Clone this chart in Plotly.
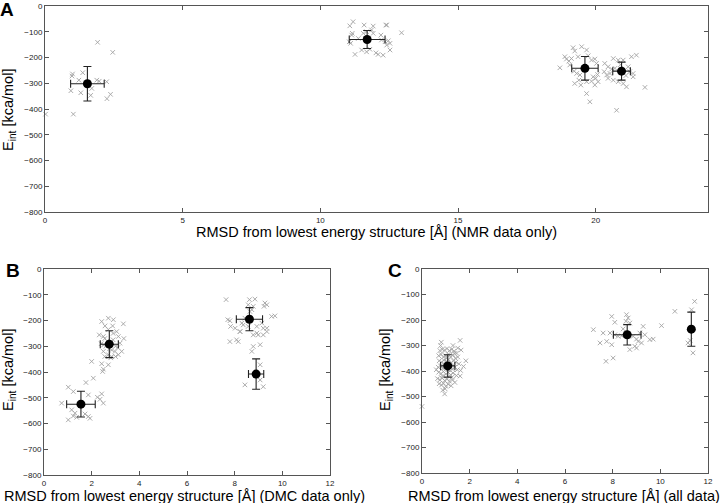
import plotly.graph_objects as go

# ---------------- Panel A (NMR data only) ----------------
a_pts_x = [1.91, 2.46, 1.00, 0.98, 1.37, 1.23, 1.88, 1.97, 2.24, 0.94, 1.30, 1.70, 1.66, 2.38, 2.25, 1.03, 0.02,
           11.19, 11.07, 11.59, 11.16, 11.14, 11.56, 11.68, 11.86, 11.92, 12.20, 12.41, 12.95, 11.05, 11.10, 11.38,
           12.22, 12.35, 12.47, 12.53, 12.41, 11.50, 11.26, 12.02, 12.10, 12.28, 12.53, 11.80, 11.68, 11.92, 12.38,
           19.18, 19.49, 19.67, 19.24, 18.88, 18.94, 19.03, 19.12, 19.36, 19.73, 19.85, 19.97, 20.03, 18.70, 19.06,
           19.22, 19.31, 19.43, 19.39, 19.24, 19.46, 19.67, 19.85, 19.91, 20.00, 20.09, 19.97, 19.67, 19.79, 20.07,
           20.76, 20.33, 20.45, 20.31, 20.40, 20.52, 20.64, 20.82, 21.00, 20.70, 21.18, 21.24, 21.36, 21.30, 21.48,
           20.64, 20.82, 21.00, 21.12, 20.45, 21.79, 21.36, 20.58, 20.90, 21.10]
a_pts_y = [-141, -180, -264, -272, -259, -288, -288, -292, -294, -329, -337, -320, -347, -343, -360, -420, -420,
           -61, -77, -74, -106, -113, -106, -100, -93, -106, -113, -74, -104, -139, -145, -126,
           -132, -139, -135, -145, -152, -171, -188, -182, -188, -191, -171, -168, -178, -78, -74,
           -162, -158, -171, -175, -197, -206, -214, -204, -197, -193, -210, -206, -223, -240, -229,
           -253, -262, -268, -288, -301, -307, -294, -292, -275, -281, -294, -307, -340, -372, -266,
           -405, -223, -236, -255, -268, -262, -204, -210, -210, -242, -236, -255, -262, -197, -191,
           -288, -294, -301, -314, -281, -316, -275, -245, -228, -270]
a_mean_x = [1.54, 11.70, 19.61, 20.94]
a_mean_y = [-302, -130, -242, -253]
a_err_x = [0.61, 0.65, 0.48, 0.32]
a_err_y = [67, 35, 46, 35]

# ---------------- Panel B (DMC data only) ----------------
b_pts_x = [2.42, 2.70, 2.91, 2.56, 2.88, 3.33, 2.32, 2.49, 3.05, 3.12, 3.19, 2.84, 2.98, 2.70, 2.49, 3.26, 3.12, 2.84,
           2.55, 2.65, 2.90, 3.00, 2.75, 2.60, 3.10, 2.50, 2.90, 2.70, 3.00, 3.35, 2.40, 2.80, 2.55,
           2.00, 2.42, 2.70, 2.49, 2.46, 2.07, 1.76, 1.02, 1.23, 1.86, 2.42, 2.24, 2.35, 2.49, 0.74, 1.16, 1.30,
           1.23, 1.02, 1.86, 1.93, 1.72, 1.37,
           8.62, 8.85, 8.57, 8.78, 9.27, 9.35, 9.23, 8.72, 8.64, 8.43, 8.30, 8.23, 8.36, 8.57, 8.78, 8.99, 8.93,
           9.14, 9.20, 9.35, 9.55, 9.69, 7.64, 7.71, 7.80, 7.83, 7.80, 8.08, 8.02, 8.22, 8.15, 8.93, 8.78, 9.07,
           9.20, 9.35, 8.72, 9.07, 8.43, 9.20, 9.07]
b_pts_y = [-204, -191, -197, -221, -221, -213, -256, -262, -243, -262, -288, -314, -320, -333, -320, -320, -333, -340,
           -270, -280, -275, -300, -310, -300, -305, -295, -250, -235, -340, -270, -290, -345, -340,
           -359, -368, -372, -389, -398, -424, -441, -459, -476, -489, -485, -498, -506, -521, -521, -547, -560,
           -571, -586, -573, -580, -563, -576,
           -119, -117, -139, -145, -132, -139, -145, -158, -165, -191, -210, -243, -217, -223, -256, -256, -223,
           -210, -230, -243, -184, -182, -119, -197, -201, -223, -282, -275, -230, -243, -282, -249, -301, -294,
           -256, -230, -320, -372, -450, -457, -431]
b_mean_x = [1.55, 2.74, 8.62, 8.90]
b_mean_y = [-525, -292, -195, -408]
b_err_x = [0.60, 0.38, 0.55, 0.32]
b_err_y = [50, 52, 45, 59]

# ---------------- Panel C (all data) ----------------
c_pts_x = [0.81, 1.60, 1.64, 1.84, 1.74, 0.95, 0.87,
           0.75, 0.85, 0.95, 1.05, 1.15, 1.25, 1.35, 1.45,
           0.70, 0.80, 0.90, 1.00, 1.10, 1.20, 1.30, 1.40, 1.50,
           0.72, 0.82, 0.92, 1.02, 1.12, 1.22, 1.32, 1.42, 1.55,
           0.68, 0.78, 0.88, 0.98, 1.08, 1.18, 1.28, 1.38, 1.48, 1.62,
           0.70, 0.80, 0.90, 1.00, 1.10, 1.20, 1.30, 1.45,
           0.65, 0.75, 0.85, 0.95, 1.05, 1.15, 1.28, 1.38,
           0.72, 0.82, 0.90, 1.00, 1.10, 1.22,
           0.78, 1.30, 1.50, 0.60, 1.60, 0.00,
           0.93, 1.17, 1.03, 0.86, 1.25, 1.13, 0.97, 1.36,
           7.19, 7.60, 7.96, 8.09, 7.89, 7.47, 7.75, 7.96, 7.72, 8.02, 8.58, 8.65, 8.56, 8.44, 8.72, 8.38, 8.86,
           9.00, 9.07, 9.14, 9.28, 9.35, 9.56, 9.70, 10.05, 8.72, 8.93, 9.00, 8.09, 8.23, 9.21,
           11.44, 11.31, 11.16, 11.37, 11.25, 10.61]
c_pts_y = [-287, -280, -318, -360, -382, -490, -475,
           -320, -315, -318, -312, -320, -315, -322, -330,
           -340, -335, -345, -340, -335, -345, -338, -350, -345,
           -360, -365, -358, -362, -355, -368, -360, -365, -372,
           -385, -380, -390, -385, -395, -388, -392, -385, -395, -398,
           -405, -410, -402, -412, -405, -415, -408, -418,
           -430, -435, -428, -438, -432, -440, -435, -445,
           -450, -455, -448, -460, -452, -458,
           -300, -300, -310, -395, -420, -539,
           -372, -378, -350, -420, -425, -395, -470, -330,
           -238, -251, -186, -209, -251, -290, -284, -297, -362, -349, -179, -192, -205, -235, -212, -262, -264,
           -275, -284, -251, -225, -258, -277, -275, -222, -316, -303, -310, -258, -264, -290,
           -127, -160, -290, -329, -280, -166]
c_mean_x = [1.08, 8.61, 11.30]
c_mean_y = [-380, -258, -236]
c_err_x = [0.30, 0.58, 0.0]
c_err_y = [44, 40, 67]

# ---------------- ticks ----------------
y_ticks = [0, -100, -200, -300, -400, -500, -600, -700, -800]
a_x_ticks = [0, 5, 10, 15, 20]
bc_x_ticks = [0, 2, 4, 6, 8, 10, 12]

x_titles = ["RMSD from lowest energy structure [Å] (NMR data only)",
            "RMSD from lowest energy structure [Å] (DMC data only)",
            "RMSD from lowest energy structure [Å] (all data)"]
y_title = "E<sub>int</sub> [kca/mol]"
panel_labels = ["A", "B", "C"]

PT_COLOR = "#a3a3a3"
FONT = "Liberation Sans, Arial, Helvetica, sans-serif"

fig = go.Figure()

panels = [
    (a_pts_x, a_pts_y, a_mean_x, a_mean_y, a_err_x, a_err_y, "x", "y"),
    (b_pts_x, b_pts_y, b_mean_x, b_mean_y, b_err_x, b_err_y, "x2", "y2"),
    (c_pts_x, c_pts_y, c_mean_x, c_mean_y, c_err_x, c_err_y, "x3", "y3"),
]
for px, py, mx, my, ex, ey, xa, ya in panels:
    fig.add_trace(go.Scatter(
        x=px, y=py, mode="markers", xaxis=xa, yaxis=ya, showlegend=False,
        marker=dict(symbol="x-thin", size=4.5, color=PT_COLOR,
                    line=dict(color=PT_COLOR, width=0.9)),
        cliponaxis=False))
    fig.add_trace(go.Scatter(
        x=mx, y=my, mode="markers", xaxis=xa, yaxis=ya, showlegend=False,
        marker=dict(symbol="circle", size=9, color="black"),
        error_x=dict(type="data", array=ex, color="#222", thickness=1.1, width=4),
        error_y=dict(type="data", array=ey, color="#222", thickness=1.1, width=4)))

W, H = 720, 503
def px2x(p):
    return p / W
def px2y(p):
    return 1 - p / H

axis_common = dict(showgrid=False, zeroline=False, showline=True, linecolor="#555", linewidth=1,
                   mirror="ticks", ticks="inside", ticklen=4, tickcolor="#555", automargin=False,
                   tickfont=dict(size=8, color="#222", family=FONT))

layout = dict(
    width=W, height=H, margin=dict(l=0, r=0, t=0, b=0, autoexpand=False),
    paper_bgcolor="white", plot_bgcolor="white",
    xaxis=dict(domain=[px2x(45), px2x(708)], range=[0, 24.08], tickvals=a_x_ticks, anchor="y", **axis_common),
    yaxis=dict(domain=[px2y(212), px2y(6)], range=[-800, 0], tickvals=y_ticks, anchor="x", **axis_common),
    xaxis2=dict(domain=[px2x(44), px2x(330)], range=[0, 12], tickvals=bc_x_ticks, anchor="y2", **axis_common),
    yaxis2=dict(domain=[px2y(475), px2y(269)], range=[-800, 0], tickvals=y_ticks, anchor="x2", **axis_common),
    xaxis3=dict(domain=[px2x(422), px2x(708)], range=[0, 12], tickvals=bc_x_ticks, anchor="y3", **axis_common),
    yaxis3=dict(domain=[px2y(473), px2y(269)], range=[-800, 0], tickvals=y_ticks, anchor="x3", **axis_common),
)
fig.update_layout(**layout)

ann = []
# x-axis titles
for txt, cx, cy in zip(x_titles, [376, 185, 564], [232, 496, 496]):
    ann.append(dict(text=txt, x=px2x(cx), y=px2y(cy), xref="paper", yref="paper",
                    showarrow=False, xanchor="center", yanchor="middle",
                    font=dict(size=14.5, color="black", family=FONT)))
# y-axis titles
for cx, cy in [(9, 110), (9, 370), (386, 370)]:
    ann.append(dict(text=y_title, x=px2x(cx), y=px2y(cy), xref="paper", yref="paper",
                    showarrow=False, xanchor="center", yanchor="middle", textangle=-90,
                    font=dict(size=14.5, color="black", family=FONT)))
# panel labels
for lab, cx, cy in zip(panel_labels, [7, 13, 395], [9, 270, 270]):
    ann.append(dict(text="<b>" + lab + "</b>", x=px2x(cx), y=px2y(cy), xref="paper", yref="paper",
                    showarrow=False, xanchor="center", yanchor="middle",
                    font=dict(size=19, color="black", family=FONT)))
fig.update_layout(annotations=ann)

fig.write_html("out.html", config={"displayModeBar": False},
               post_script="document.body.style.margin='0';document.body.style.padding='0';")
